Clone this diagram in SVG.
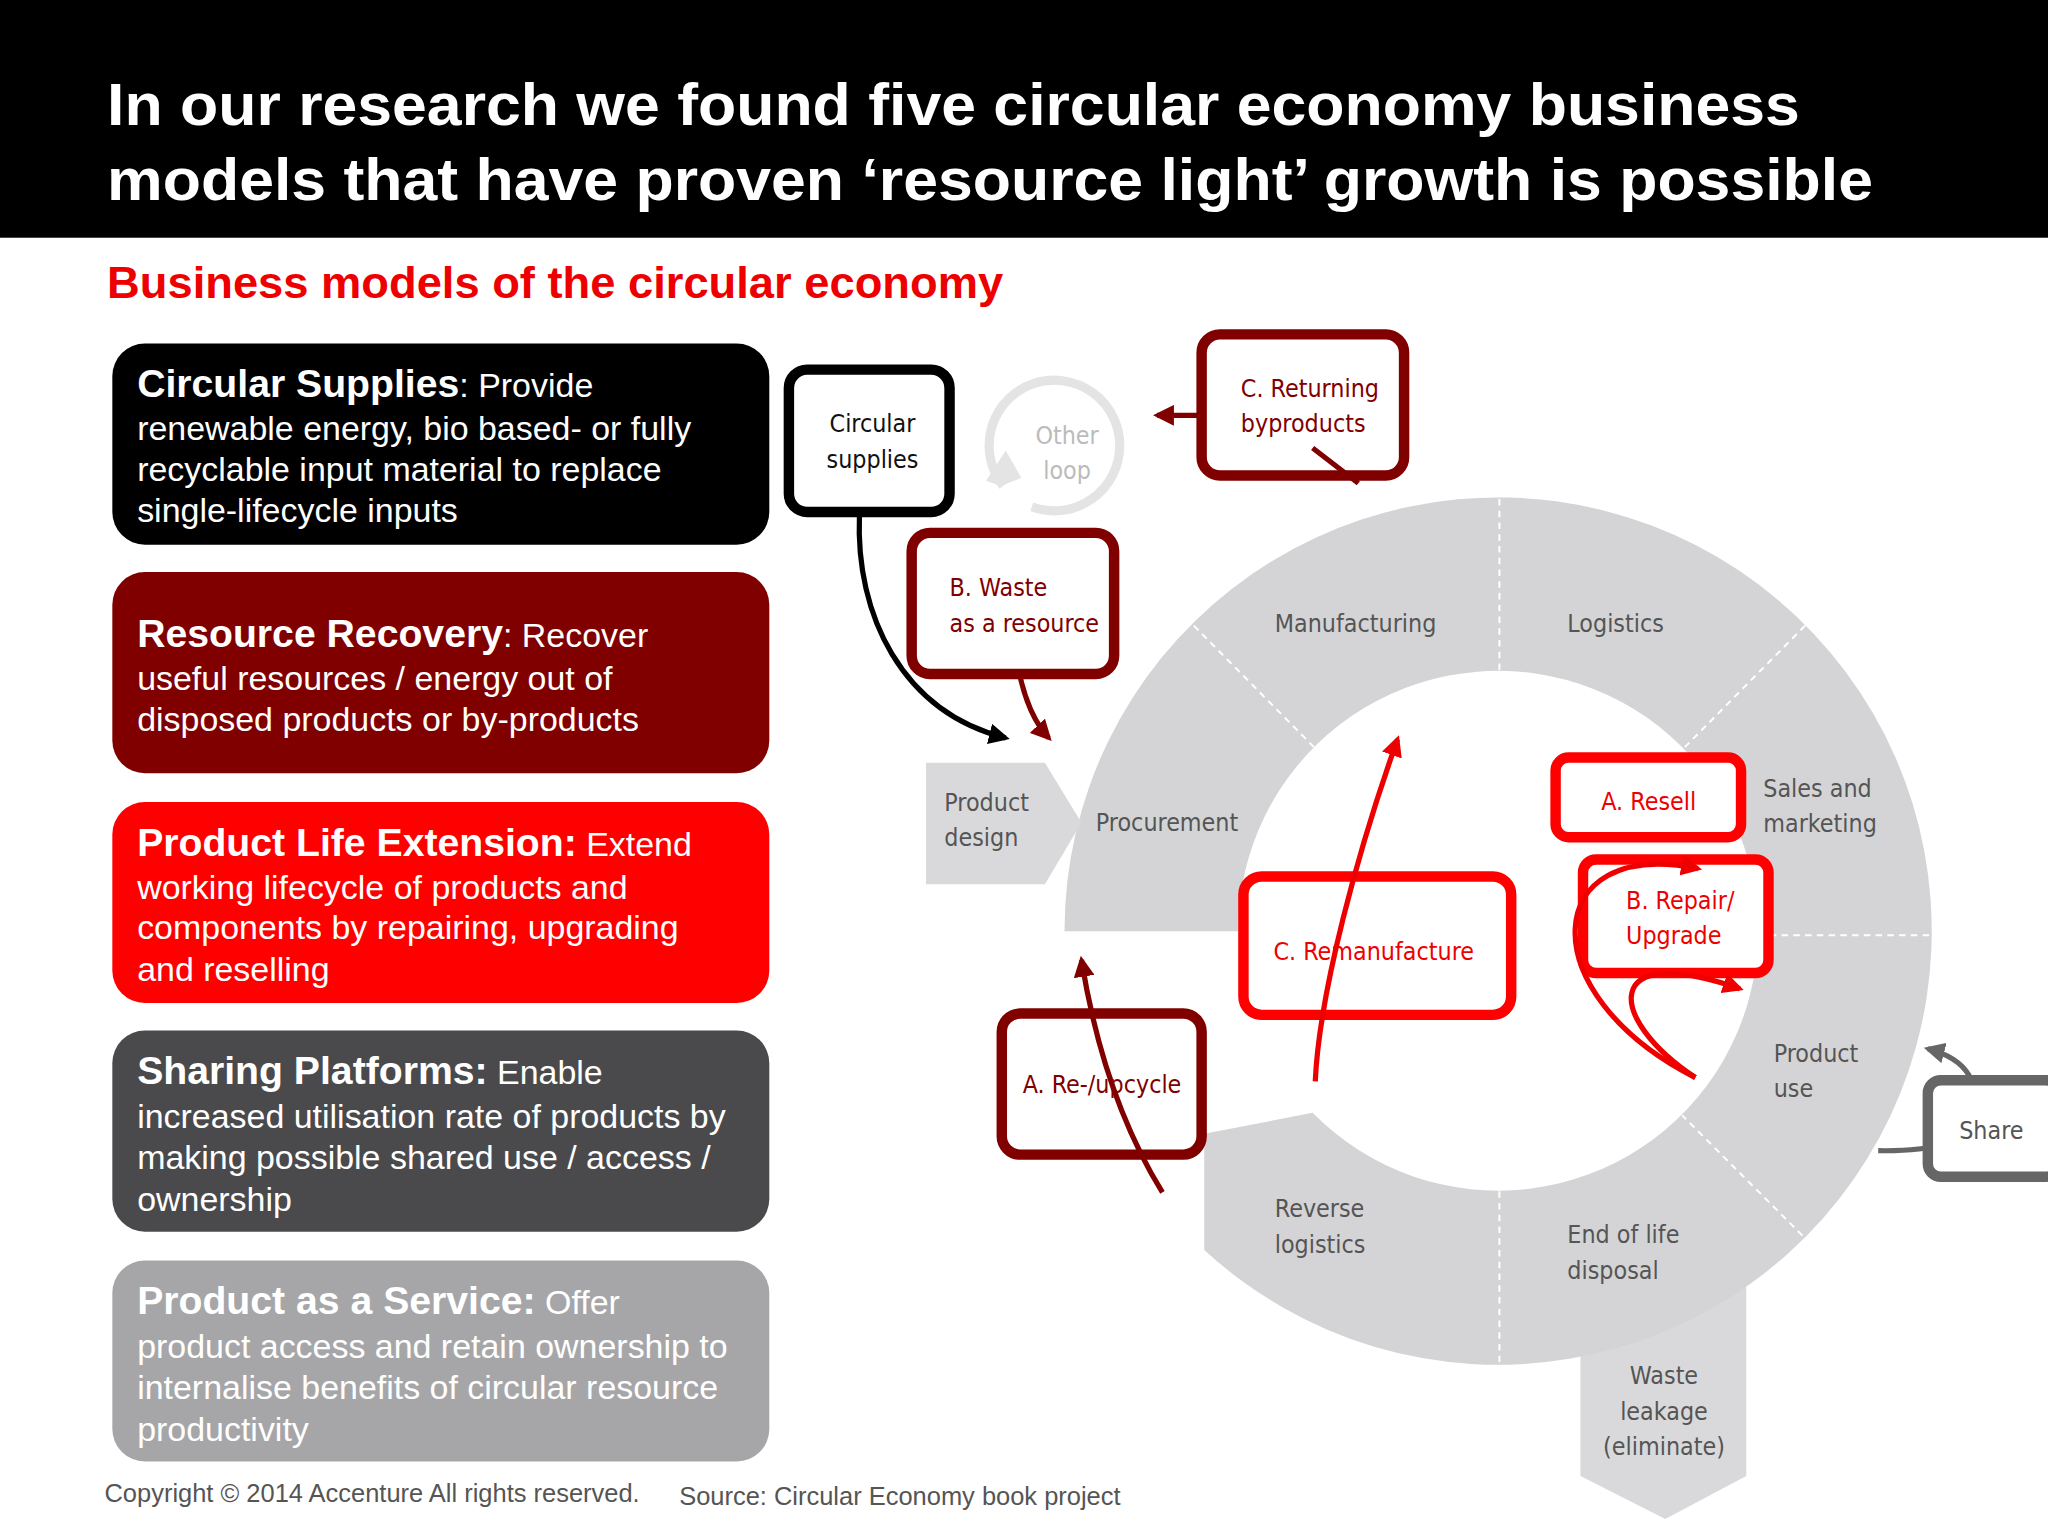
<svg xmlns="http://www.w3.org/2000/svg" width="2048" height="1536" viewBox="0 0 2048 1536">
<style>
.t{font-family:"Liberation Sans",Arial,sans-serif}
.bx{font-family:"Liberation Sans",Arial,sans-serif;font-size:26px;fill:#fff}
.bx tspan.h{font-weight:bold;font-size:30px}
.lb{font-family:"DejaVu Sans Condensed","DejaVu Sans",sans-serif;font-stretch:condensed;font-size:19px;fill:#555}
.nd{fill:#fff;stroke-width:8}
.dr{stroke:#800000}.rd{stroke:#f00}
.sep{stroke:#fff;stroke-width:1.5;stroke-dasharray:5 4}
.ar{fill:none;stroke-width:4}
</style>
<defs>
<marker id="mk" viewBox="0 0 10 10" refX="8" refY="5" markerWidth="4" markerHeight="4" orient="auto"><path d="M0 0L10 5L0 10z" fill="#000"/></marker>
<marker id="mdr" viewBox="0 0 10 10" refX="8" refY="5" markerWidth="4" markerHeight="4" orient="auto"><path d="M0 0L10 5L0 10z" fill="#800000"/></marker>
<marker id="mr" viewBox="0 0 10 10" refX="8" refY="5" markerWidth="4" markerHeight="4" orient="auto"><path d="M0 0L10 5L0 10z" fill="#e00"/></marker>
<marker id="mg" viewBox="0 0 10 10" refX="8" refY="5" markerWidth="4" markerHeight="4" orient="auto"><path d="M0 0L10 5L0 10z" fill="#666"/></marker>
</defs>
<rect width="2048" height="1536" fill="#fff"/>
<g transform="scale(1.30612)">
<g id="header">
<rect x="0" y="0" width="1568" height="182" fill="#000"/>
<text class="t" x="82" y="96" font-size="45" font-weight="bold" fill="#fff" textLength="1296" lengthAdjust="spacingAndGlyphs">In our research we found five circular economy business</text>
<text class="t" x="82" y="153" font-size="45" font-weight="bold" fill="#fff" textLength="1352" lengthAdjust="spacingAndGlyphs">models that have proven ‘resource light’ growth is possible</text>
<text class="t" x="82" y="228" font-size="34" font-weight="bold" fill="#e00" textLength="686" lengthAdjust="spacingAndGlyphs">Business models of the circular economy</text>
</g>
<g id="box1"><rect x="86" y="263" width="503" height="154" rx="25" fill="#000"/>
<text class="bx"><tspan x="105" y="304"><tspan class="h">Circular Supplies</tspan>: Provide</tspan><tspan x="105" y="337">renewable energy, bio based- or fully</tspan><tspan x="105" y="368">recyclable input material to replace</tspan><tspan x="105" y="400">single-lifecycle inputs</tspan></text></g>
<g id="box2"><rect x="86" y="438" width="503" height="154" rx="25" fill="#800000"/>
<text class="bx"><tspan x="105" y="495"><tspan class="h">Resource Recovery</tspan>: Recover</tspan><tspan x="105" y="528">useful resources / energy out of</tspan><tspan x="105" y="560">disposed products or by-products</tspan></text></g>
<g id="box3"><rect x="86" y="614" width="503" height="154" rx="25" fill="#f00"/>
<text class="bx"><tspan x="105" y="655"><tspan class="h">Product Life Extension:</tspan> Extend</tspan><tspan x="105" y="688">working lifecycle of products and</tspan><tspan x="105" y="719">components by repairing, upgrading</tspan><tspan x="105" y="751">and reselling</tspan></text></g>
<g id="box4"><rect x="86" y="789" width="503" height="154" rx="25" fill="#4a4a4c"/>
<text class="bx"><tspan x="105" y="830"><tspan class="h">Sharing Platforms:</tspan> Enable</tspan><tspan x="105" y="864">increased utilisation rate of products by</tspan><tspan x="105" y="895">making possible shared use / access /</tspan><tspan x="105" y="927">ownership</tspan></text></g>
<g id="box5"><rect x="86" y="965" width="503" height="154" rx="25" fill="#a6a6a8"/>
<text class="bx"><tspan x="105" y="1006"><tspan class="h">Product as a Service:</tspan> Offer</tspan><tspan x="105" y="1040">product access and retain ownership to</tspan><tspan x="105" y="1071">internalise benefits of circular resource</tspan><tspan x="105" y="1103">productivity</tspan></text></g>
<g id="footer">
<text class="t" x="80" y="1150" font-size="19.5" fill="#555">Copyright © 2014 Accenture All rights reserved.</text>
<text class="t" x="520" y="1152" font-size="19.5" fill="#555">Source: Circular Economy book project</text>
</g>
<g id="cycle">
<path d="M1210 980H1337V1130L1275 1163L1210 1130Z" fill="#d9d9db"/>
<path d="M815 713A332 332 0 1 1 922 957L922 868L1005 852A199 199 0 1 0 948 713Z" fill="#d4d4d6"/>
<path d="M709 584H800L828 630L800 677H709Z" fill="#d9d9db"/>
<line class="sep" x1="1148" y1="382" x2="1148" y2="514"/>
<line class="sep" x1="914" y1="479" x2="1006" y2="572"/>
<line class="sep" x1="1382" y1="479" x2="1290" y2="572"/>
<line class="sep" x1="1346" y1="716" x2="1478" y2="716"/>
<line class="sep" x1="1380" y1="946" x2="1288" y2="854"/>
<line class="sep" x1="1148" y1="912" x2="1148" y2="1045"/>
<text class="lb" x="976" y="484">Manufacturing</text>
<text class="lb" x="1200" y="484">Logistics</text>
<text class="lb"><tspan x="1350" y="610">Sales and</tspan><tspan x="1350" y="637">marketing</tspan></text>
<text class="lb" x="839" y="636">Procurement</text>
<text class="lb"><tspan x="723" y="621">Product</tspan><tspan x="723" y="648">design</tspan></text>
<text class="lb"><tspan x="1358" y="813">Product</tspan><tspan x="1358" y="840">use</tspan></text>
<text class="lb"><tspan x="1200" y="952">End of life</tspan><tspan x="1200" y="979">disposal</tspan></text>
<text class="lb"><tspan x="976" y="932">Reverse</tspan><tspan x="976" y="959">logistics</tspan></text>
<text class="lb" text-anchor="middle"><tspan x="1274" y="1060">Waste</tspan><tspan x="1274" y="1087">leakage</tspan><tspan x="1274" y="1114">(eliminate)</tspan></text>
</g>
<g id="other-loop">
<path d="M768 372A50 50 0 1 1 790 388" fill="none" stroke="#e4e4e4" stroke-width="7"/>
<path d="M766 372L755 368L770 345L782 366Z" fill="#e4e4e4"/>
<text class="lb" style="fill:#bbb" text-anchor="middle"><tspan x="817" y="340">Other</tspan><tspan x="817" y="367">loop</tspan></text>
</g>
<g id="connectors-back">
<path class="ar" stroke="#000" d="M658 395C655 470 690 545 770 565" marker-end="url(#mk)"/>
<path class="ar" stroke="#800000" d="M775 418Q770 530 803 565" marker-end="url(#mdr)"/>
<path class="ar" stroke="#666" d="M1438 881Q1500 882 1510 860Q1522 815 1476 803" marker-end="url(#mg)"/>
</g>
<g id="circular-supplies"><rect class="nd" x="604" y="283" width="123" height="109" rx="14" stroke="#000" stroke-width="7"/>
<text class="lb" style="fill:#111" text-anchor="middle"><tspan x="668" y="331">Circular</tspan><tspan x="668" y="358">supplies</tspan></text></g>
<g id="returning"><rect class="nd dr" x="920" y="256" width="155" height="108" rx="14"/>
<text class="lb" style="fill:#800000"><tspan x="950" y="304">C. Returning</tspan><tspan x="950" y="331">byproducts</tspan></text></g>
<g id="waste-resource"><rect class="nd dr" x="698" y="408" width="155" height="108" rx="14"/>
<text class="lb" style="fill:#800000"><tspan x="727" y="456">B. Waste</tspan><tspan x="727" y="484">as a resource</tspan></text></g>
<g id="reupcycle"><rect class="nd dr" x="767" y="776" width="153" height="108" rx="14"/>
<text class="lb" style="fill:#800000" x="783" y="837">A. Re-/upcycle</text></g>
<g id="remanufacture"><rect class="nd rd" x="952" y="671" width="205" height="106" rx="14"/>
<text class="lb" style="fill:#e00" x="975" y="735">C. Remanufacture</text></g>
<g id="resell"><rect class="nd rd" x="1191" y="580" width="142" height="61" rx="10"/>
<text class="lb" style="fill:#e00" x="1226" y="620">A. Resell</text></g>
<g id="repair"><rect class="nd rd" x="1212" y="658" width="142" height="87" rx="10"/>
<text class="lb" style="fill:#e00"><tspan x="1245" y="696">B. Repair/</tspan><tspan x="1245" y="723">Upgrade</tspan></text></g>
<g id="share"><rect class="nd" x="1476" y="827" width="100" height="74" rx="10" stroke="#666" stroke-width="7"/>
<text class="lb" x="1500" y="872">Share</text></g>
<g id="connectors">
<path class="ar" stroke="#800000" d="M920 318H886" marker-end="url(#mdr)"/>
<path class="ar" stroke="#800000" d="M1005 343L1040 370"/>
<path class="ar" stroke="#e00" stroke-width="3.5" d="M1007 828C1010 760 1040 650 1070 566" marker-end="url(#mr)"/>
<path class="ar" stroke="#800000" d="M890 913Q845 840 828 735" marker-end="url(#mdr)"/>
<path class="ar" stroke="#e00" stroke-width="3.5" d="M1298 825C1170 760 1180 640 1300 665" marker-end="url(#mr)"/>
<path class="ar" stroke="#e00" stroke-width="3.5" d="M1298 825C1230 780 1225 720 1332 757" marker-end="url(#mr)"/>
</g>
</g>
</svg>
